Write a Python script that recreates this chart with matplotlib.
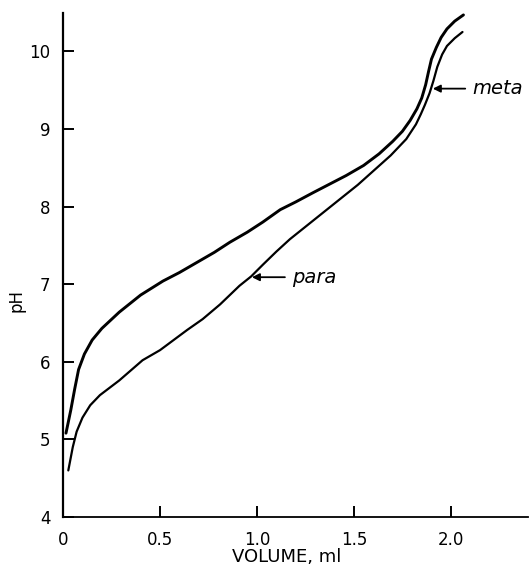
import matplotlib
matplotlib.use("Agg")
import matplotlib.pyplot as plt

plt.rcParams["font.family"] = ["DejaVu Sans"]

# upper (thick) titration curve
upper_vol = [0.015, 0.04, 0.06, 0.08, 0.11, 0.15, 0.20, 0.29, 0.40, 0.515,
             0.60, 0.69, 0.78, 0.86, 0.95, 1.03, 1.12, 1.20, 1.29, 1.46,
             1.55, 1.63, 1.70, 1.75, 1.79, 1.825, 1.85, 1.87, 1.885, 1.90,
             1.925, 1.95, 1.98, 2.02, 2.065]
upper_ph = [5.08, 5.38, 5.65, 5.90, 6.10, 6.28, 6.43, 6.64, 6.86, 7.04,
            7.15, 7.28, 7.41, 7.54, 7.67, 7.80, 7.96, 8.06, 8.18, 8.40,
            8.53, 8.68, 8.84, 8.97, 9.11, 9.26, 9.40, 9.57, 9.74, 9.90,
            10.05, 10.18, 10.29, 10.39, 10.47]

# lower (thinner) titration curve
lower_vol = [0.027, 0.05, 0.07, 0.10, 0.14, 0.19, 0.29, 0.41, 0.50, 0.64,
             0.72, 0.81, 0.86, 0.91, 0.97, 1.03, 1.10, 1.17, 1.34, 1.52,
             1.69, 1.77, 1.82, 1.845, 1.866, 1.89, 1.91, 1.93, 1.955, 1.98,
             2.02, 2.06]
lower_ph = [4.60, 4.90, 5.10, 5.28, 5.44, 5.57, 5.76, 6.02, 6.15, 6.41,
            6.55, 6.74, 6.86, 6.98, 7.10, 7.25, 7.42, 7.58, 7.92, 8.28,
            8.66, 8.87, 9.06, 9.19, 9.31, 9.46, 9.62, 9.80, 9.96, 10.07,
            10.17, 10.25]

x_ticks = [0, 0.5, 1.0, 1.5, 2.0]
x_tick_labels = ["0", "0.5", "1.0", "1.5", "2.0"]
y_ticks = [4, 5, 6, 7, 8, 9, 10]

# arrow labels: (text, arrow tip, text position)
labels = [
    ("para", (0.974, 7.09), (1.18, 7.09)),
    ("meta", (1.907, 9.52), (2.11, 9.52)),
]


fig = plt.figure(figsize=(5.30, 5.71), dpi=100)
ax = fig.add_axes([0.119, 0.0946, 0.878, 0.882])

ax.plot(upper_vol, upper_ph, color="black", lw=2.1, solid_capstyle="round")
ax.plot(lower_vol, lower_ph, color="black", lw=1.6, solid_capstyle="round")

for text, tip, pos in labels:
    ax.annotate(text, xy=tip, xytext=pos, fontsize=14, style="italic",
                ha="left", va="center",
                arrowprops=dict(arrowstyle="-|>", color="black", lw=1.3,
                                mutation_scale=11, shrinkA=3, shrinkB=0))

ax.set_xlim(0, 2.4)
ax.set_ylim(4, 10.49)

ax.spines["top"].set_visible(False)
ax.spines["right"].set_visible(False)
ax.spines["left"].set_linewidth(1.6)
ax.spines["bottom"].set_linewidth(1.3)

ax.set_xticks(x_ticks)
ax.set_xticklabels(x_tick_labels)
ax.set_yticks(y_ticks)
ax.tick_params(direction="in", length=8, width=1.4, labelsize=12)
ax.tick_params(axis="x", pad=10)
ax.tick_params(axis="y", pad=9)

ax.set_xlabel("VOLUME, ml", fontsize=13)
ax.set_ylabel("pH", fontsize=12)
ax.xaxis.set_label_coords(0.48, -0.062)
ax.yaxis.set_label_coords(-0.08, 0.43)

fig.savefig("out.png", dpi=100)
plt.close(fig)
